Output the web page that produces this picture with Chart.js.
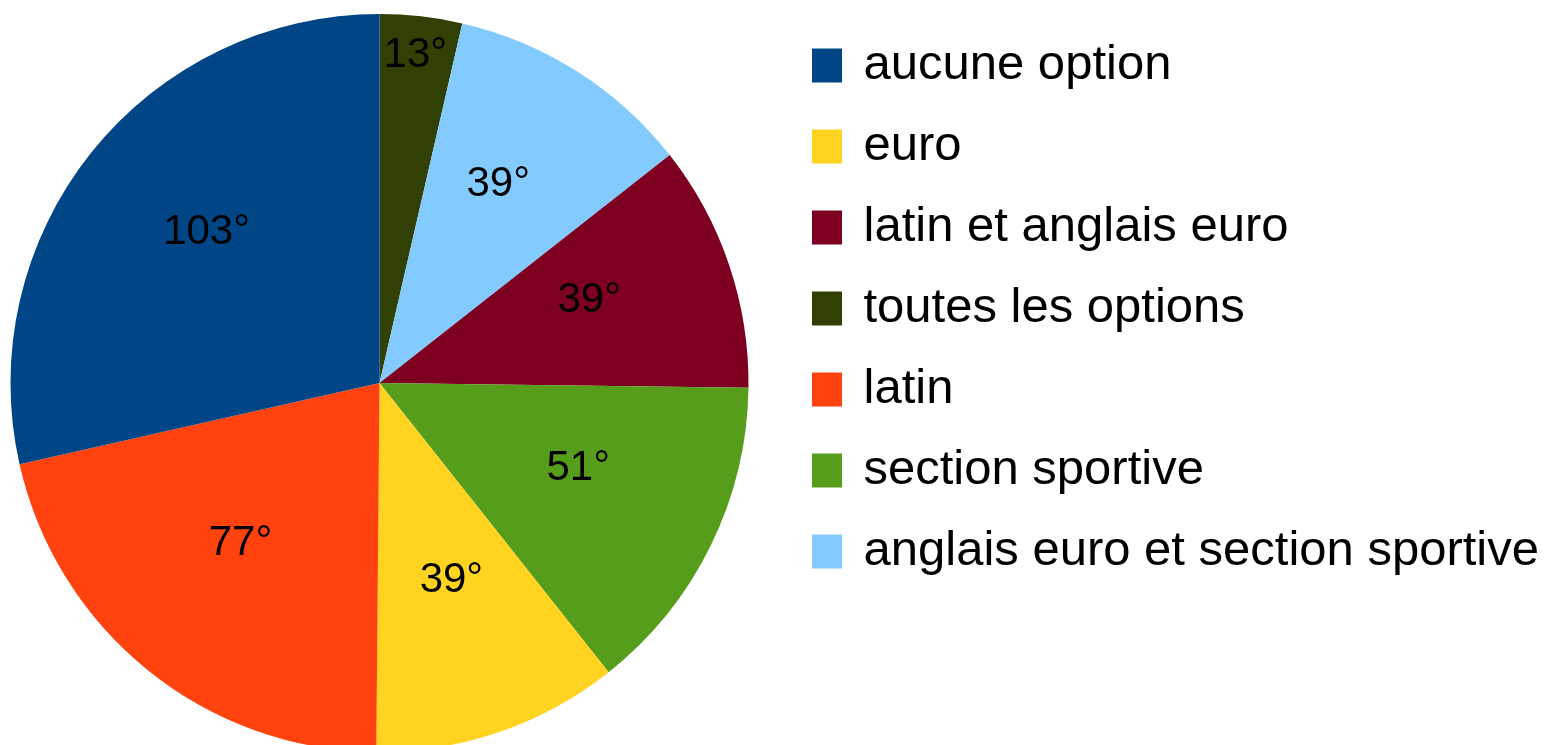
<!DOCTYPE html>
<html lang="fr">
<head>
<meta charset="utf-8">
<script src="https://cdn.jsdelivr.net/npm/chart.js@4.4.1/dist/chart.umd.min.js"></script>
<style>
  html, body { margin: 0; padding: 0; background: #fff; overflow: hidden; }
  canvas { display: block; margin-left: -24px; }
</style>
</head>
<body>
<canvas id="camembert" width="1576" height="766"></canvas>
<script>
// parts dans le sens des aiguilles d'une montre, à partir de midi
const options = ['toutes les options', 'anglais euro et section sportive', 'latin et anglais euro', 'section sportive', 'euro', 'latin', 'aucune option'];
const degres = [13, 39, 39, 51, 39, 77, 103];
const couleurs = ['#314004', '#83caff', '#7e0021', '#579d1c', '#ffd320', '#ff420e', '#004586'];
// ordre de la légende
const ordreLegende = ['aucune option', 'euro', 'latin et anglais euro', 'toutes les options', 'latin', 'section sportive', 'anglais euro et section sportive'];
const police = '"Liberation Sans", Arial, sans-serif';

const etiquettes = {
    id: 'etiquettes',
    afterDatasetsDraw(chart) {
        const ctx = chart.ctx;
        const meta = chart.getDatasetMeta(0);
        ctx.save();
        ctx.font = `42px ${police}`;
        ctx.fillStyle = '#000';
        ctx.textAlign = 'center';
        ctx.textBaseline = 'middle';
        meta.data.forEach((arc, i) => {
            const { x, y, startAngle, endAngle, outerRadius } = arc.getProps(['x', 'y', 'startAngle', 'endAngle', 'outerRadius'], true);
            const milieu = (startAngle + endAngle) / 2;
            const frac = endAngle - startAngle < 0.35 ? 0.86 : 0.6;
            ctx.fillText(degres[i] + '°', x + Math.cos(milieu) * outerRadius * frac, y + Math.sin(milieu) * outerRadius * frac - 12);
        });
        ctx.restore();
    }
};

const genererLabels = Chart.overrides.doughnut.plugins.legend.labels.generateLabels;

new Chart(document.getElementById('camembert'), {
    type: 'pie',
    data: {
        labels: options,
        datasets: [{
            data: degres,
            backgroundColor: couleurs,
            borderWidth: 0
        }]
    },
    options: {
        responsive: false,
        animation: false,
        events: [],
        radius: 369,
        layout: { padding: { top: 9, bottom: 9, left: 0, right: 3 } },
        plugins: {
            tooltip: { enabled: false },
            legend: {
                position: 'right',
                align: 'start',
                labels: {
                    color: '#000',
                    font: { family: police, size: 49 },
                    boxWidth: 24,
                    boxHeight: 28,
                    padding: 32,
                    sort: (a, b) => ordreLegende.indexOf(a.text) - ordreLegende.indexOf(b.text),
                    generateLabels: chart => genererLabels(chart).map(l => ({ ...l, lineWidth: 6, strokeStyle: l.fillStyle }))
                }
            }
        }
    },
    plugins: [etiquettes]
});
</script>
</body>
</html>
